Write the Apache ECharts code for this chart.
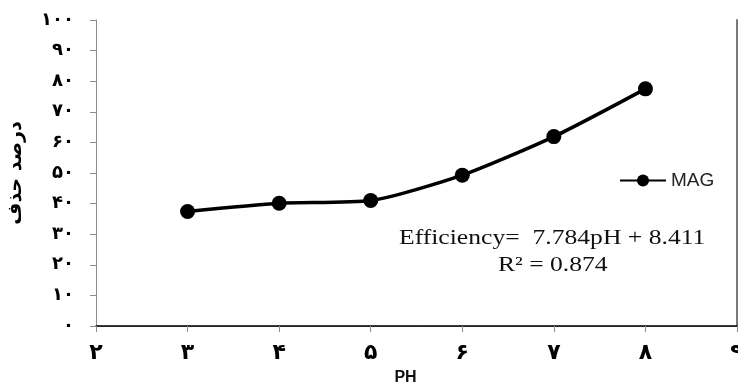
<!DOCTYPE html>
<html>
<head>
<meta charset="utf-8">
<script src="https://cdn.jsdelivr.net/npm/echarts@6/dist/echarts.min.js"></script>
<style>html,body{margin:0;padding:0;background:#fff}#c{width:738px;height:385px}</style>
</head>
<body>
<div id="c"></div>
<script>
var phValues = [3, 4, 5, 6, 7, 8];
var magValues = [37.4, 40.1, 41.0, 49.3, 61.9, 77.5];
var xTickLabels = {2:'۲',3:'۳',4:'۴',5:'۵',6:'۶',7:'۷',8:'۸',9:'۹'};
var yTickLabels = {0:'۰',10:'۱۰',20:'۲۰',30:'۳۰',40:'۴۰',50:'۵۰',60:'۶۰',70:'۷۰',80:'۸۰',90:'۹۰',100:'۱۰۰'};
var seriesName = 'MAG';
var yAxisName = 'درصد حذف';
var xAxisName = 'PH';
var equationLine = 'Efficiency=  7.784pH + 8.411';
var r2Line = 'R² = 0.874';

var chart = echarts.init(document.getElementById('c'), null, {renderer: 'canvas'});
var data = phValues.map(function (x, i) { return [x, magValues[i]]; });
chart.setOption({
  animation: false,
  backgroundColor: '#fff',
  grid: {left: 96, right: 1, top: 20, bottom: 59, containLabel: false, outerBoundsMode: 'none'},
  legend: {
    data: [seriesName],
    left: 614, top: 166,
    itemWidth: 46, itemHeight: 15, itemGap: 3,
    textStyle: {fontFamily: 'Liberation Sans', fontSize: 19, color: '#222'}
  },
  xAxis: [{
    type: 'value', min: 2, max: 9, interval: 1,
    name: xAxisName, nameLocation: 'middle', nameGap: 44,
    nameTextStyle: {fontFamily: 'Liberation Sans', fontWeight: 'bold', fontSize: 16, color: '#111', padding: [0, 22, 0, 0]},
    axisLine: {lineStyle: {color: '#8c8c8c', width: 1}},
    axisTick: {show: true, inside: false, length: 6, lineStyle: {color: '#8c8c8c'}},
    axisLabel: {margin: 16, fontFamily: 'DejaVu Sans', fontWeight: 'bold', fontSize: 22, color: '#000',
      formatter: function (v) { return xTickLabels[v] || ''; }},
    splitLine: {show: false}
  }, {
    type: 'value', position: 'top', min: 2, max: 9,
    axisLine: {show: true, lineStyle: {color: '#000', width: 1.5}},
    axisTick: {show: false}, axisLabel: {show: false}, splitLine: {show: false}
  }],
  yAxis: [{
    type: 'value', min: 0, max: 100, interval: 10,
    name: yAxisName, nameLocation: 'middle', nameGap: 70, nameRotate: 90,
    nameTextStyle: {fontFamily: 'DejaVu Sans', fontWeight: 'bold', fontSize: 19, color: '#000'},
    axisLine: {show: true, lineStyle: {color: '#8c8c8c', width: 1}},
    axisTick: {show: true, inside: false, length: 6, lineStyle: {color: '#8c8c8c'}},
    axisLabel: {margin: 22, fontFamily: 'DejaVu Sans', fontWeight: 'bold', fontSize: 18, color: '#000',
      formatter: function (v) { return yTickLabels[v] !== undefined ? yTickLabels[v] : ''; }},
    splitLine: {show: false}
  }, {
    type: 'value', position: 'right', min: 0, max: 100,
    axisLine: {show: true, lineStyle: {color: '#7a7a7a', width: 2}},
    axisTick: {show: false}, axisLabel: {show: false}, splitLine: {show: false}
  }],
  graphic: [{
    type: 'text', left: 399, top: 228, scaleX: 1.22,
    style: {text: equationLine, font: '21px "Liberation Serif"', fill: '#111'}
  }, {
    type: 'text', left: 498, top: 255, scaleX: 1.22,
    style: {text: r2Line, font: '21px "Liberation Serif"', fill: '#111'}
  }],
  series: [{
    name: seriesName, type: 'line', smooth: 0.22,
    data: data,
    symbol: 'circle', symbolSize: 15,
    itemStyle: {color: '#000'},
    lineStyle: {color: '#000', width: 3.5}
  }]
});
</script>
</body>
</html>
